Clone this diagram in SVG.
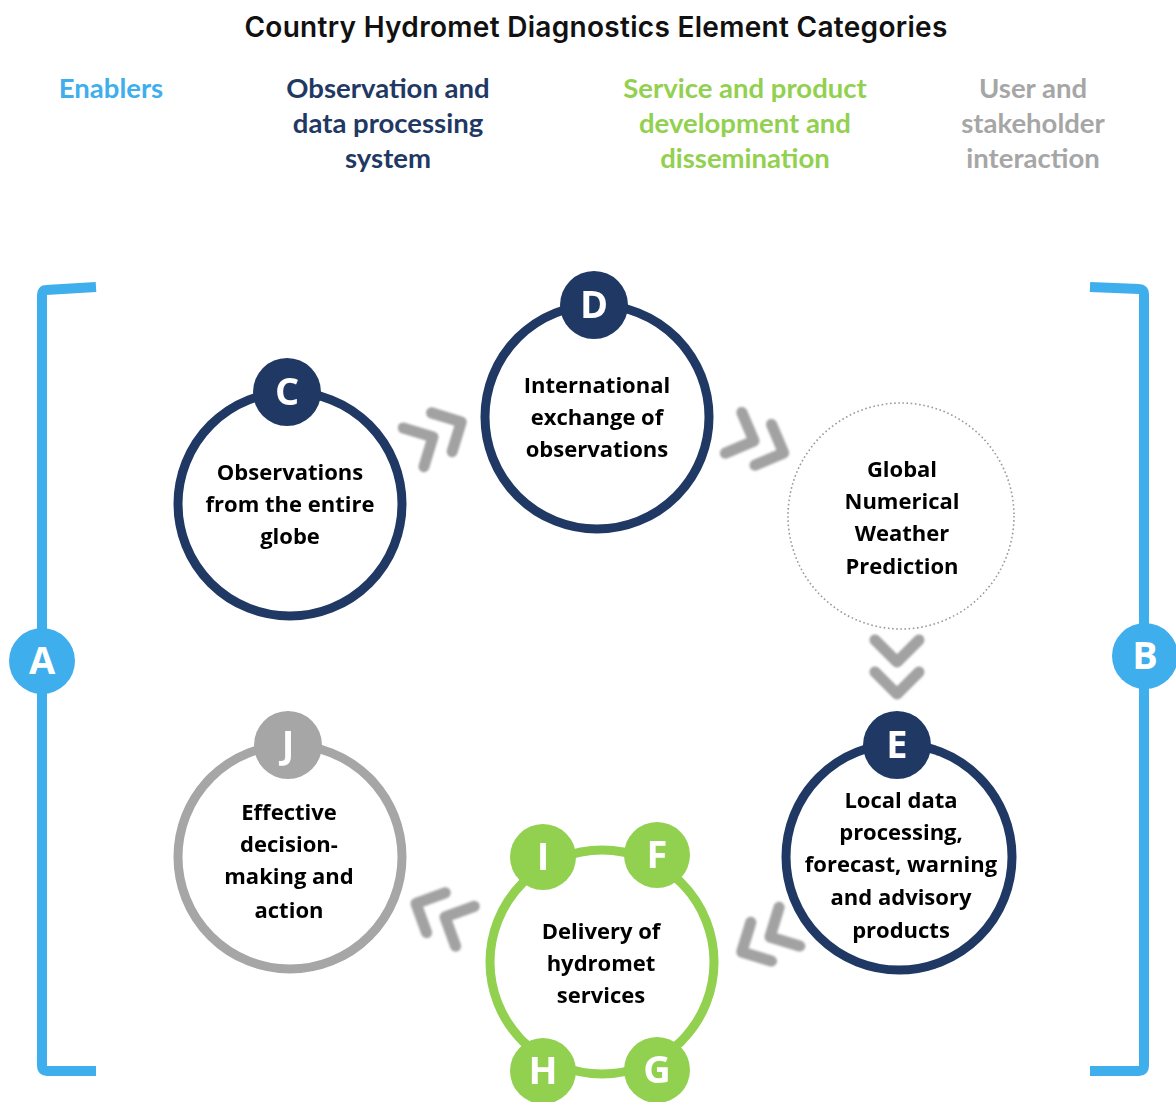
<svg xmlns="http://www.w3.org/2000/svg" width="1176" height="1102" viewBox="0 0 1176 1102">
<defs>
<style>
.title{font-family:Inter,"Liberation Sans",sans-serif;font-weight:600;font-size:28px;letter-spacing:0.3px;fill:#111;text-anchor:middle}
.hdr{font-family:Lato,"Open Sans",sans-serif;font-weight:700;font-size:27.5px;text-anchor:middle}
.node{font-family:"Open Sans",Lato,sans-serif;font-weight:700;font-size:22px;fill:#000;text-anchor:middle}
.badge{font-family:"Open Sans",Lato,sans-serif;font-weight:700;font-size:38px;fill:#fff;text-anchor:middle}
.ring{fill:#fff;stroke-width:9}
.navy{stroke:#1F3864}
.chev{fill:none;stroke:#A2A2A2;stroke-width:11;stroke-linecap:round;stroke-linejoin:round}
.brk{fill:none;stroke:#3FAEEC;stroke-width:10;stroke-linejoin:round}
</style>
<filter id="soft" x="-20%" y="-20%" width="140%" height="140%"><feGaussianBlur stdDeviation="0.8"/></filter>
<g id="chevPair">
<path class="chev" d="M-22 -22 L0 0 L-22 22"/>
<path class="chev" d="M10 -22 L32 0 L10 22"/>
</g>
</defs>
<rect width="1176" height="1102" fill="#fff"/>

<text class="title" x="596" y="37">Country Hydromet Diagnostics Element Categories</text>

<g id="headers">
<text class="hdr" x="111" y="98" fill="#3FAEEC">Enablers</text>
<text class="hdr" fill="#1F3864"><tspan x="388" y="98">Observation and</tspan><tspan x="388" y="133">data processing</tspan><tspan x="388" y="168">system</tspan></text>
<text class="hdr" fill="#92D050"><tspan x="745" y="98">Service and product</tspan><tspan x="745" y="133">development and</tspan><tspan x="745" y="168">dissemination</tspan></text>
<text class="hdr" fill="#A6A6A6"><tspan x="1033" y="98">User and</tspan><tspan x="1033" y="133">stakeholder</tspan><tspan x="1033" y="168">interaction</tspan></text>
</g>

<g id="bracketA">
<path class="brk" d="M96 287 L46 290 Q42 290 42 295 L42 1066 Q42 1071 47 1071 L96 1071"/>
<circle cx="42" cy="661" r="33" fill="#3FAEEC"/>
<text class="badge" x="42" y="674">A</text>
</g>
<g id="bracketB">
<path class="brk" d="M1090 287 L1139 289 Q1144 289 1144 294 L1144 1066 Q1144 1071 1139 1071 L1090 1071"/>
<circle cx="1145" cy="656" r="33" fill="#3FAEEC"/>
<text class="badge" x="1145" y="669">B</text>
</g>

<g id="connectors" filter="url(#soft)">
<use href="#chevPair" transform="translate(433,437) rotate(-28)"/>
<use href="#chevPair" transform="translate(754,441) rotate(22)"/>
<use href="#chevPair" transform="translate(897,662) rotate(90)"/>
<use href="#chevPair" transform="translate(770,937) rotate(152)"/>
<use href="#chevPair" transform="translate(445,917) rotate(205)"/>
</g>

<g id="nodeC">
<circle class="ring navy" cx="290" cy="504" r="112"/>
<circle cx="287" cy="392" r="34" fill="#1F3864"/>
<text class="badge" x="287" y="405">C</text>
<text class="node"><tspan x="290" y="480">Observations</tspan><tspan x="290" y="512">from the entire</tspan><tspan x="290" y="544">globe</tspan></text>
</g>

<g id="nodeD">
<circle class="ring navy" cx="597" cy="417" r="112"/>
<circle cx="594" cy="305" r="34" fill="#1F3864"/>
<text class="badge" x="594" y="318">D</text>
<text class="node"><tspan x="597" y="393">International</tspan><tspan x="597" y="425">exchange of</tspan><tspan x="597" y="457">observations</tspan></text>
</g>

<g id="nodeNWP">
<circle cx="901" cy="516" r="113" fill="#fff" stroke="#9a9a9a" stroke-width="1.6" stroke-dasharray="1.6 2.6"/>
<text class="node"><tspan x="902" y="477">Global</tspan><tspan x="902" y="509">Numerical</tspan><tspan x="902" y="541">Weather</tspan><tspan x="902" y="574">Prediction</tspan></text>
</g>

<g id="nodeE">
<circle class="ring navy" cx="899" cy="857" r="113"/>
<circle cx="897" cy="745" r="34" fill="#1F3864"/>
<text class="badge" x="897" y="758">E</text>
<text class="node"><tspan x="901" y="808">Local data</tspan><tspan x="901" y="840">processing,</tspan><tspan x="901" y="872">forecast, warning</tspan><tspan x="901" y="905">and advisory</tspan><tspan x="901" y="938">products</tspan></text>
</g>

<g id="nodeJ">
<circle class="ring" cx="290" cy="857" r="112" stroke="#A6A6A6"/>
<circle cx="288" cy="745" r="34" fill="#A6A6A6"/>
<text class="badge" x="288" y="758">J</text>
<text class="node"><tspan x="289" y="820">Effective</tspan><tspan x="289" y="852">decision-</tspan><tspan x="289" y="884">making and</tspan><tspan x="289" y="918">action</tspan></text>
</g>

<g id="nodeDelivery">
<circle class="ring" cx="602" cy="962" r="112" stroke="#92D050"/>
<circle cx="543" cy="857" r="33" fill="#92D050"/>
<text class="badge" x="543" y="870">I</text>
<circle cx="657" cy="855" r="33" fill="#92D050"/>
<text class="badge" x="657" y="868">F</text>
<circle cx="543" cy="1071" r="33" fill="#92D050"/>
<text class="badge" x="543" y="1084">H</text>
<circle cx="657" cy="1070" r="33" fill="#92D050"/>
<text class="badge" x="657" y="1083">G</text>
<text class="node"><tspan x="601" y="939">Delivery of</tspan><tspan x="601" y="971">hydromet</tspan><tspan x="601" y="1003">services</tspan></text>
</g>
</svg>
